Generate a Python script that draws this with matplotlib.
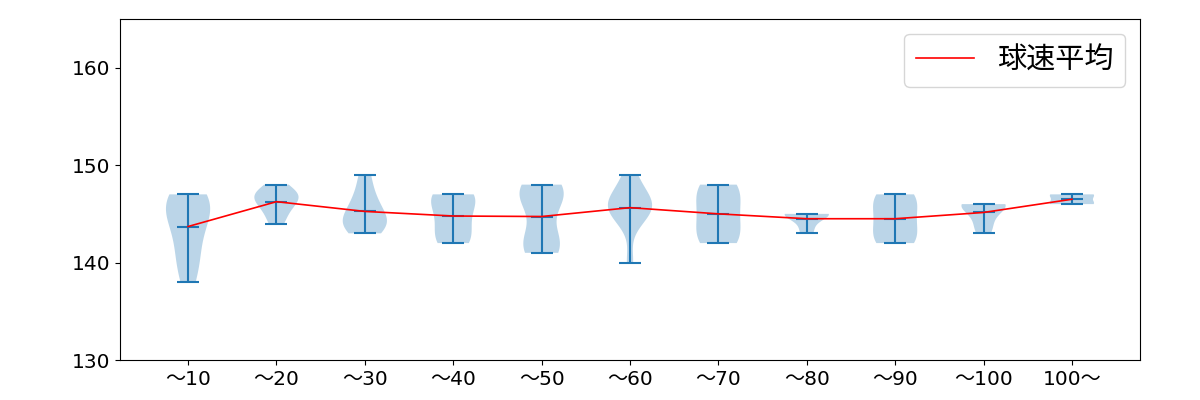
import numpy as np
import matplotlib
matplotlib.use('Agg')
import matplotlib.pyplot as plt

plt.rcParams['font.family'] = ['DejaVu Sans', 'Noto Sans CJK JP']

labels = ['～10', '～20', '～30', '～40', '～50', '～60', '～70', '～80', '～90', '～100', '100～']

# pitch speeds (km/h) per bin
g1 = [138, 140, 141, 143, 144, 145, 146, 146, 147, 147]
g2 = [144, 145, 146, 147, 147, 147, 148, 146]
g3 = [143, 144, 144, 144, 145, 146, 147, 149]
g4 = [142, 142, 143, 144, 145, 146, 147, 147, 147]
g5 = [141, 141, 142, 142, 143, 146, 147, 147, 148, 148, 147]
g6 = [140, 144, 145, 145, 146, 146, 146, 146, 147, 148, 149]
g7 = [142, 142, 143, 144, 145, 146, 147, 148, 148]
g8 = [143, 144, 145, 145, 145, 145]
g9 = [142, 142, 143, 144, 145, 146, 147, 147]
g10 = [143, 144, 145, 146, 146, 146, 146]
g11 = [146, 147, 146, 147]

data = [g1, g2, g3, g4, g5, g6, g7, g8, g9, g10, g11]
means = [np.mean(d) for d in data]
pos = np.arange(1, len(data) + 1)

fig = plt.figure(figsize=(12, 4), dpi=100)
ax = fig.add_axes([0.1, 0.1, 0.85, 0.8525])
ax.violinplot(data, positions=pos, showmeans=True)
ax.plot(pos, means, color='red', linewidth=1.2, label='球速平均')

ax.set_xticks(pos)
ax.set_xticklabels(labels)
ax.set_ylim(130, 165)
ax.set_yticks([130, 140, 150, 160])
ax.set_xlim(0.23, 11.77)
ax.tick_params(axis='both', labelsize=14.5)
ax.legend(loc='upper right', prop={'family': ['Noto Sans CJK JP'], 'size': 21})

fig.savefig('out.png')
